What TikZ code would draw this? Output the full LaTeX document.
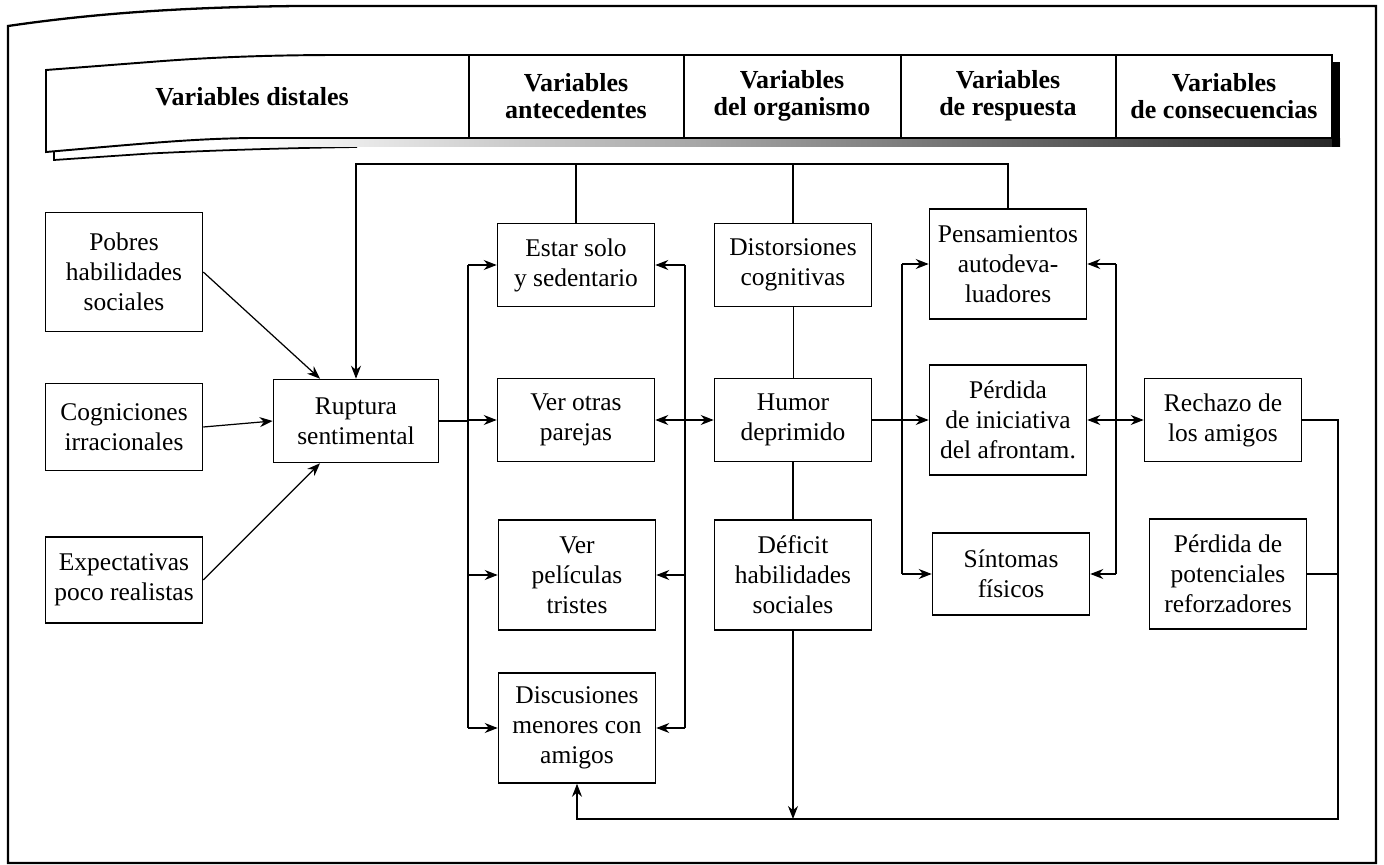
\documentclass[tikz,border=0pt]{standalone}
\usepackage{fontspec}
\setmainfont{Liberation Serif}
\usetikzlibrary{arrows.meta}

\begin{document}
\begin{tikzpicture}
  [
    x=0.02cm, y=-0.02cm,
    inner sep=0mm,
    varbox/.style={rectangle,draw,line width=0.9pt,minimum width=3.14cm,minimum height=1.66cm,align=center,font=\fontsize{14.5}{17}\selectfont},
    tallbox/.style={varbox,minimum height=2.2cm},
    headtext/.style={align=center,font=\fontsize{14.8}{15.5}\selectfont\bfseries},
    link/.style={line width=0.7pt},
    arr/.style={link,-{Stealth[length=2.6mm,width=2mm]}},
    biarr/.style={link,{Stealth[length=2.6mm,width=2mm]}-{Stealth[length=2.6mm,width=2mm]}},
  ]
  \useasboundingbox (0,0) rectangle (1384,865);

  % marco exterior
  \draw[line width=1.3pt] (8,26) .. controls (90,14) and (180,7) .. (300,6) -- (1376,6) -- (1376,863) -- (8,863) -- cycle;

  % cabecera
  \draw[line width=1pt] (54,152) -- (54,160) -- (150,153.5) .. controls (220,150) and (290,148) .. (357,147);
  \shade[left color=white,right color=black!85] (250,139) rectangle (1340,147);
  \fill (1332,62) rectangle (1340,147);
  \draw[line width=1.1pt,fill=white] (46,70) -- (150,62) .. controls (200,58) and (260,55) .. (340,55) -- (1332,55) -- (1332,138) -- (250,138) .. controls (190,139) and (150,143) .. (46,152) -- cycle;
  \foreach \x in {469,684,901,1116}
    \draw[line width=0.8pt] (\x,55) -- (\x,138);
  \node (hdist) at (252,97) [headtext] {Variables distales};
  \node (hante) at (576,96) [headtext] {Variables\\antecedentes};
  \node (horg) at (792,96) [headtext] {Variables\\del organismo};
  \node (hresp) at (1008,96) [headtext] {Variables\\de respuesta};
  \node (hcons) at (1224,96) [headtext] {Variables\\de consecuencias};

  % variables distales
  \node (pobres) at (124,272) [varbox,minimum height=2.38cm] {Pobres\\habilidades\\sociales};
  \node (cogn) at (124,427) [varbox,minimum height=1.74cm] {Cogniciones\\irracionales};
  \node (expec) at (124,580) [varbox,minimum height=1.72cm] {Expectativas\\poco realistas};
  \node (ruptura) at (356,421) [varbox,minimum width=3.3cm] {Ruptura\\sentimental};

  % antecedentes
  \node (solo) at (576,265) [varbox] {Estar solo\\y sedentario};
  \node (parejas) at (576,420) [varbox] {Ver otras\\parejas};
  \node (peliculas) at (577,575) [tallbox] {Ver\\películas\\tristes};
  \node (discus) at (577,728) [tallbox] {Discusiones\\menores con\\amigos};

  % organismo
  \node (distor) at (793,265) [varbox] {Distorsiones\\cognitivas};
  \node (humor) at (793,420) [varbox] {Humor\\deprimido};
  \node (deficit) at (793,575) [tallbox] {Déficit\\habilidades\\sociales};

  % respuesta
  \node (pensam) at (1008,264) [tallbox] {Pensamientos\\autodeva-\\luadores};
  \node (inicia) at (1008,420) [tallbox] {Pérdida\\de iniciativa\\del afrontam.};
  \node (sintomas) at (1011,574) [varbox,minimum height=1.64cm] {Síntomas\\físicos};

  % consecuencias
  \node (rechazo) at (1223,420) [varbox] {Rechazo de\\los amigos};
  \node (refuerzo) at (1228,574) [tallbox] {Pérdida de\\potenciales\\reforzadores};

  \coordinate (fbtop) at (0,164);
  \coordinate (fbbot) at (0,819);
  \coordinate (busL) at (468,0);
  \coordinate (busR) at (685,0);
  \coordinate (busM) at (902,0);
  \coordinate (busN) at (1116,0);
  \coordinate (busC) at (1338,0);

  % hacia la ruptura
  \draw[arr] (pobres.east) -- ([xshift=-0.72cm]ruptura.north);
  \draw[arr] (cogn.east) -- (ruptura.west);
  \draw[arr] (expec.east) -- ([xshift=-0.72cm]ruptura.south);
  \draw[arr] (pensam.north) -- (pensam.north |- fbtop) -- (ruptura.north |- fbtop) -- (ruptura.north);
  \draw[link] (solo.north) -- (solo.north |- fbtop);
  \draw[link] (distor.north) -- (distor.north |- fbtop);

  % antecedentes
  \draw[link] (ruptura.east) -- (ruptura.east -| busL);
  \draw[link] (solo.west -| busL) -- (discus.west -| busL);
  \foreach \n in {solo,parejas,peliculas,discus}
    \draw[arr] (\n.west -| busL) -- (\n.west);
  \draw[link] (solo.east -| busR) -- (discus.east -| busR);
  \foreach \n in {solo,peliculas,discus}
    \draw[arr] (\n.east -| busR) -- (\n.east);
  \draw[biarr] (parejas.east) -- (humor.west);

  % organismo
  \draw[link,line width=0.5pt] (distor.south) -- (humor.north);
  \draw[link] (humor.south) -- (deficit.north);
  \draw[link] (humor.east) -- (humor.east -| busM);

  % respuesta
  \draw[link] (pensam.west -| busM) -- (sintomas.west -| busM);
  \foreach \n in {pensam,inicia,sintomas}
    \draw[arr] (\n.west -| busM) -- (\n.west);
  \draw[link] (pensam.east -| busN) -- (sintomas.east -| busN);
  \foreach \n in {pensam,sintomas}
    \draw[arr] (\n.east -| busN) -- (\n.east);
  \draw[biarr] (inicia.east) -- (rechazo.west);

  % consecuencias
  \draw[arr] (rechazo.east) -- (rechazo.east -| busC) -- (busC |- fbbot) -- (discus.south |- fbbot) -- (discus.south);
  \draw[link] (refuerzo.east) -- (refuerzo.east -| busC);
  \draw[arr] (deficit.south) -- (deficit.south |- fbbot);
\end{tikzpicture}
\end{document}
